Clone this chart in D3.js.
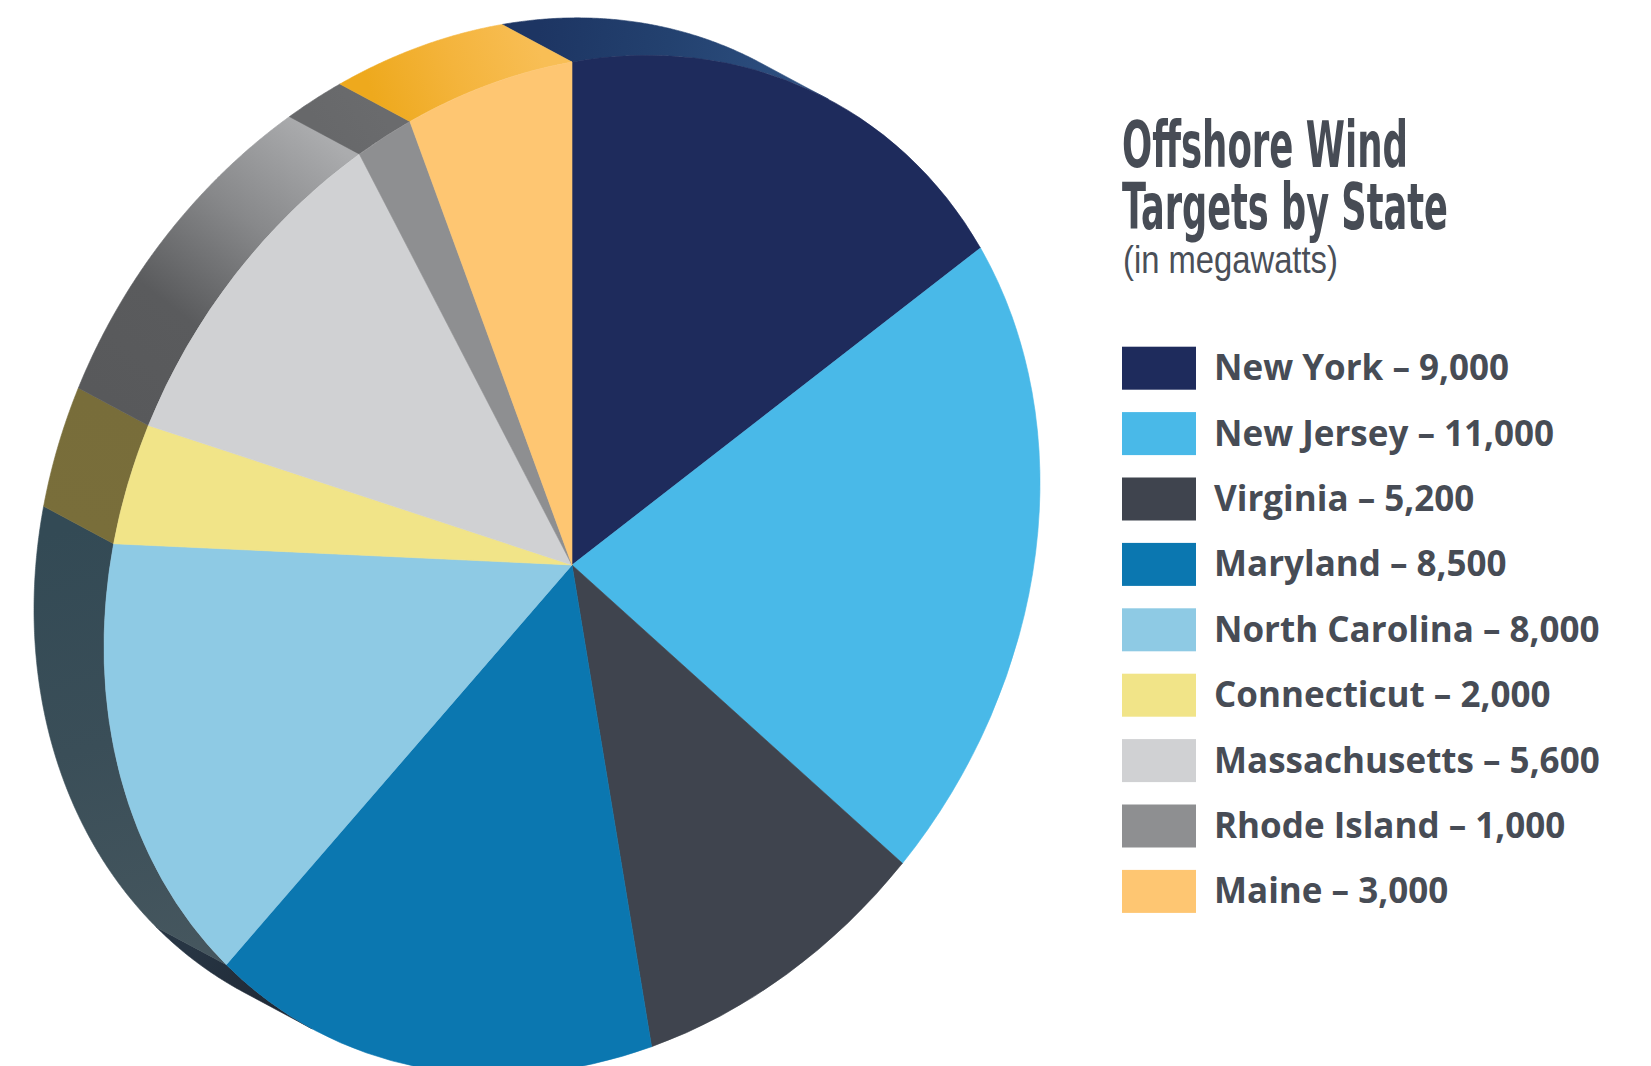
<!DOCTYPE html>
<html>
<head>
<meta charset="utf-8">
<script src="https://cdn.jsdelivr.net/npm/d3@7"></script>
<style>
  html, body { margin: 0; padding: 0; background: #ffffff; }
  svg { display: block; }
</style>
</head>
<body>
<svg id="chart" width="1651" height="1066"></svg>
<script>
// ---------------- data ----------------
const states  = ["New York", "New Jersey", "Virginia", "Maryland", "North Carolina",
                 "Connecticut", "Massachusetts", "Rhode Island", "Maine"];
const targets = [9000, 11000, 5200, 8500, 8000, 2000, 5600, 1000, 3000];
const titleLines = ["Offshore Wind", "Targets by State"];
const subtitle = "(in megawatts)";

// ---------------- palette ----------------
const faceColors = ["#1e2b5c", "#49b9e8", "#3f444e", "#0b77b0", "#8ecae4",
                    "#f1e488", "#d0d1d3", "#8e8f91", "#fec672"];
const sideColors = [
  ["#1d3563", "#23416f", "#2d4f80"],
  ["#1f5f80", "#1f5f80"],
  ["#2a2e35", "#2a2e35"],
  ["#1f2936", "#273543"],
  ["#45565e", "#3a4e58", "#334a55"],
  ["#796e3a", "#786d3a"],
  ["#58595b", "#5a5b5d", "#87888a", "#abacae"],
  ["#67686a", "#6a6b6d"],
  ["#eea91d", "#f4b43c", "#f8be55"]
];
const textColor = "#474c55";

// ---------------- geometry ----------------
const W = 1651, H = 1066;
const cx = 572, cy = 565;          // apex of the pie
const P = [468, -82];              // image of the unit "right" radius
const D = [0, 503];                // image of the unit "down" radius
const ext = [-70, -37.5];          // depth offset of the back face
const R0 = 500;

const svg = d3.select("#chart");
svg.append("rect").attr("width", W).attr("height", H).attr("fill", "#ffffff");
const defs = svg.append("defs");

const color = d3.scaleOrdinal().domain(states).range(faceColors);
const sideColor = d3.scaleOrdinal().domain(states).range(sideColors);

const pieData = d3.pie().sort(null).value(d => d.value)(
  states.map((s, i) => ({ state: s, value: targets[i] })));

function E(t) {
  const s = Math.sin(t), c = -Math.cos(t);
  return [cx + P[0] * s + D[0] * c, cy + P[1] * s + D[1] * c];
}
function visible(t) {
  const Tx = P[0] * Math.cos(t) + D[0] * Math.sin(t);
  const Ty = P[1] * Math.cos(t) + D[1] * Math.sin(t);
  return Ty * ext[0] - Tx * ext[1] > 0;
}

// ---------------- side band ----------------
const sideG = svg.append("g");
pieData.forEach((d, i) => {
  const step = Math.PI / 720;
  const ts = [];
  for (let t = d.startAngle; t <= d.endAngle + 1e-9; t += step) {
    if (visible(t)) ts.push(t);
  }
  if (visible(d.endAngle) && ts[ts.length - 1] !== d.endAngle) ts.push(d.endAngle);
  if (ts.length < 2) return;
  const front = ts.map(E);
  const back = ts.map(t => { const p = E(t); return [p[0] + ext[0], p[1] + ext[1]]; }).reverse();
  const pts = front.concat(back);

  const a = E(ts[0]), b = E(ts[ts.length - 1]);
  const gid = "side" + i;
  const stops = sideColor(d.data.state);
  const grad = defs.append("linearGradient").attr("id", gid)
    .attr("gradientUnits", "userSpaceOnUse")
    .attr("x1", a[0] + ext[0] / 2).attr("y1", a[1] + ext[1] / 2)
    .attr("x2", b[0] + ext[0] / 2).attr("y2", b[1] + ext[1] / 2);
  stops.forEach((c, k) => grad.append("stop")
    .attr("offset", k / (stops.length - 1)).attr("stop-color", c));

  sideG.append("path")
    .attr("d", d3.line()(pts) + "Z")
    .attr("fill", `url(#${gid})`)
    .attr("stroke", `url(#${gid})`)
    .attr("stroke-width", 0.6);
});

// ---------------- front face ----------------
const arc = d3.arc().innerRadius(0).outerRadius(R0);
const frontG = svg.append("g")
  .attr("transform", `matrix(${P[0] / R0},${P[1] / R0},${D[0] / R0},${D[1] / R0},${cx},${cy})`);
frontG.selectAll("path").data(pieData).join("path")
  .attr("d", arc)
  .attr("fill", d => color(d.data.state))
  .attr("stroke", d => color(d.data.state))
  .attr("stroke-width", 0.6)
  .attr("vector-effect", "non-scaling-stroke");

// ---------------- title (condensed by horizontal scaling) ----------------
function condensedText(g, str, x, y, size, weight, family, width, fill) {
  const t = g.append("text")
    .attr("x", 0).attr("y", 0)
    .attr("font-family", family)
    .attr("font-weight", weight).attr("font-size", size)
    .attr("fill", fill)
    .text(str);
  const natural = t.node().getComputedTextLength();
  const sx = natural > 0 ? width / natural : 1;
  t.attr("transform", `translate(${x},${y}) scale(${sx},1)`);
  return t;
}
const titleG = svg.append("g");
const titleFont = "'Liberation Sans Narrow', 'DejaVu Sans Condensed', sans-serif";
condensedText(titleG, titleLines[0], 1122, 166.5, 64, "bold", titleFont, 286, textColor);
condensedText(titleG, titleLines[1], 1122, 228.5, 64, "bold", titleFont, 326, textColor);
condensedText(titleG, subtitle, 1123, 273, 38, "normal", "'Liberation Sans Narrow', sans-serif", 215, "#4a4f58");

// ---------------- legend ----------------
const rowScale = d3.scaleBand().domain(states).range([346.7, 346.7 + 65.4 * states.length]).padding(0);
const legend = svg.append("g");
const rows = legend.selectAll("g").data(states).join("g")
  .attr("transform", d => `translate(1122,${rowScale(d)})`);
rows.append("rect")
  .attr("width", 74).attr("height", 43)
  .attr("fill", d => color(d));
rows.append("text")
  .attr("x", 92).attr("y", 33.5)
  .attr("font-family", "'Open Sans', sans-serif")
  .attr("font-weight", 700).attr("font-size", 35)
  .attr("fill", textColor)
  .text((d, i) => `${d} \u2013 ${d3.format(",")(targets[i])}`);
</script>
</body>
</html>
